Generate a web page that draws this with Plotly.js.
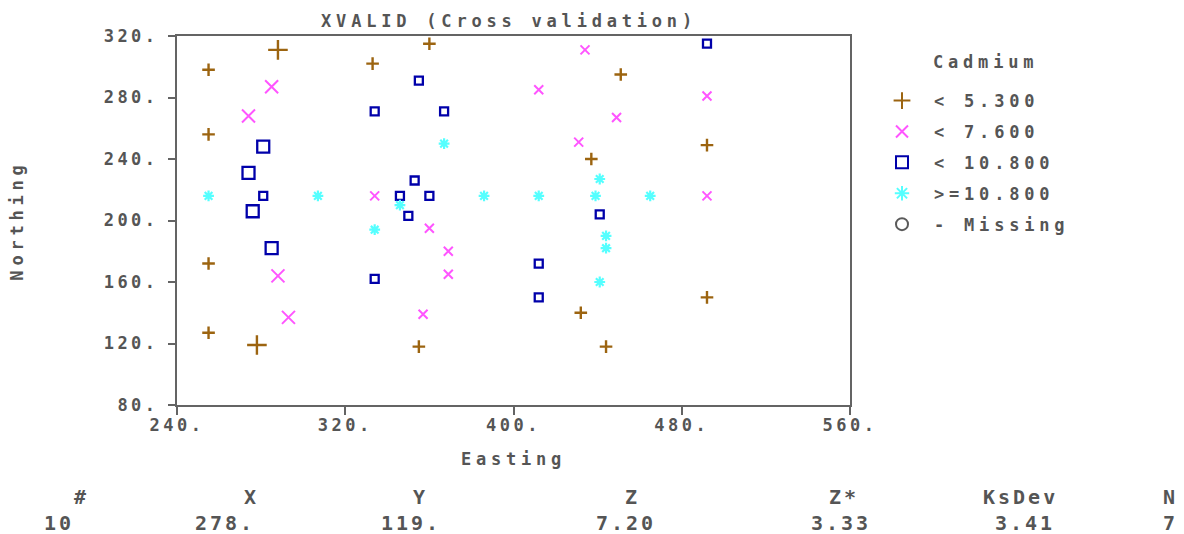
<!DOCTYPE html>
<html>
<head>
<meta charset="utf-8">
<script src="https://cdn.plot.ly/plotly-3.0.1.min.js"></script>
<style>
  html, body { margin: 0; padding: 0; background: #fff; }
  #chart { width: 1184px; height: 534px; }
  #chart text { font-weight: bold !important; }
  .gtitle, .xtitle, .ytitle, .legendtext { letter-spacing: 4.8px; }
  .xtick text, .ytick text { letter-spacing: 3.5px; }
  .annotation-text { letter-spacing: 4.8px; }
  .annotation-text[style*="font-size: 20px"] { letter-spacing: 3px; }
</style>
</head>
<body>
<div id="chart"></div>
<script>
// ---- Data ----
const titleText = 'XVALID (Cross validation)';
const xTickVals = [240, 320, 400, 480, 560];
const xTickText = ['240.', '320.', '400.', '480.', '560.'];
const yTickVals = [80, 120, 160, 200, 240, 280, 320];
const yTickText = ['80.', '120.', '160.', '200.', '240.', '280.', '320.'];

const classNames = ['&lt; 5.300', '&lt; 7.600', '&lt; 10.800', '&gt;=10.800', '- Missing'];
const legendTitle = 'Cadmium';

// class 1: < 5.300
const c1x = [255, 288, 333, 360, 451, 255, 437, 492, 255, 255, 278, 432, 444, 355, 492];
const c1y = [298, 311, 302, 315, 295, 256, 240, 249, 172, 127, 119, 140, 118, 118, 150];
const c1near = [0, 1, 0, 0, 0, 0, 0, 0, 0, 0, 1, 0, 0, 0, 0];
// class 2: < 7.600
const c2x = [285, 274, 334, 434, 412, 492, 449, 431, 492, 360, 369, 369, 288, 293, 357];
const c2y = [287, 268, 216, 311, 285, 281, 267, 251, 216, 195, 180, 165, 164, 137, 139];
const c2near = [1, 1, 0, 0, 0, 0, 0, 0, 0, 0, 0, 0, 1, 1, 0];
// class 3: < 10.800
const c3x = [281, 274, 281, 276, 355, 334, 367, 353, 346, 360, 350, 492, 441, 285, 334, 412, 412];
const c3y = [248, 231, 216, 206, 291, 271, 271, 226, 216, 216, 203, 315, 204, 182, 162, 172, 150];
const c3near = [1, 1, 0, 1, 0, 0, 0, 0, 0, 0, 0, 0, 0, 1, 0, 0, 0];
// class 4: >= 10.800
const c4x = [255, 307, 367, 386, 346, 412, 439, 465, 441, 334, 444, 444, 441];
const c4y = [216, 216, 250, 216, 210, 216, 216, 216, 227, 194, 190, 182, 160];
const c4near = [0, 0, 0, 0, 0, 0, 0, 0, 0, 0, 0, 0, 0];

// status table
const tableHeaders = ['#', 'X', 'Y', 'Z', 'Z*', 'KsDev', 'N'];
const tableValues = ['10', '278.', '119.', '7.20', '3.33', '3.41', '7'];

// ---- Layout constants ----
const W = 1184, H = 534;
const L = 177, R = 334, T = 36, B = 129;
const PW = W - L - R, PH = H - T - B;
const px2x = p => (p - L) / PW;
const py2y = p => (H - B - p) / PH;
const headerCenters = [81, 251, 420, 632, 844, 1020, 1170];
const valueCenters = [59, 225, 411, 626, 841, 1025, 1170];

const TXT = '#555555';
const AX = '#646464';
const FONT = 'DejaVu Sans Mono';

const colors = ['#9c6410', '#ff55ff', '#0000aa', '#55ffff', '#5a5a5a'];
const symbols = ['cross-thin-open', 'x-thin-open', 'square-open', 'asterisk-open', 'circle-open'];
const lineW = [2.4, 2, 2.3, 2.2, 1.6];
const sizeSmall = [9, 9, 8, 9, 8];
const sizeBig = [14, 13, 12, 9, 8];

function mk(i, xs, ys, near) {
  return {
    type: 'scatter', mode: 'markers',
    x: xs, y: ys,
    name: classNames[i],
    legendgroup: 'g' + i,
    marker: {
      symbol: symbols[i],
      color: colors[i],
      opacity: 1,
      size: near.map(n => n ? sizeBig[i] : sizeSmall[i]),
      line: { color: colors[i], width: lineW[i] }
    },
    hoverinfo: 'skip'
  };
}

const traces = [
  mk(0, c1x, c1y, c1near),
  mk(1, c2x, c2y, c2near),
  mk(2, c3x, c3y, c3near),
  mk(3, c4x, c4y, c4near),
  {
    type: 'scatter', mode: 'markers', x: [null], y: [null],
    name: classNames[4], legendgroup: 'g4',
    marker: { symbol: symbols[4], color: colors[4], size: 8, line: { color: colors[4], width: 1.6 } },
    hoverinfo: 'skip'
  }
];

const annotations = [];
annotations.push({
  text: legendTitle, xref: 'paper', yref: 'paper',
  x: px2x(931), y: py2y(62), xanchor: 'left', yanchor: 'middle',
  showarrow: false, font: { family: FONT, size: 17, color: TXT, weight: 'bold' }
});
tableHeaders.forEach((h, i) => {
  annotations.push({
    text: h, xref: 'paper', yref: 'paper',
    x: px2x(headerCenters[i]), y: py2y(497), xanchor: 'center', yanchor: 'middle',
    showarrow: false, font: { family: FONT, size: 20, color: TXT, weight: 'bold' }
  });
});
tableValues.forEach((v, i) => {
  annotations.push({
    text: v, xref: 'paper', yref: 'paper',
    x: px2x(valueCenters[i]), y: py2y(523), xanchor: 'center', yanchor: 'middle',
    showarrow: false, font: { family: FONT, size: 20, color: TXT, weight: 'bold' }
  });
});

const axisCommon = {
  showline: true, linecolor: AX, linewidth: 2, mirror: true,
  ticks: 'outside', tickcolor: AX, tickwidth: 2,
  showgrid: false, zeroline: false,
  tickfont: { family: FONT, size: 17, color: TXT, weight: 'bold' }
};

const layout = {
  width: W, height: H,
  margin: { l: L, r: R, t: T, b: B, pad: 0 },
  paper_bgcolor: '#ffffff', plot_bgcolor: '#ffffff',
  font: { family: FONT, color: TXT, size: 17, weight: 'bold' },
  title: {
    text: titleText, xref: 'container', yref: 'container',
    x: 509 / W, xanchor: 'center', y: 1 - 21 / H, yanchor: 'middle',
    font: { family: FONT, size: 17, color: TXT, weight: 'bold' }
  },
  xaxis: Object.assign({}, axisCommon, {
    range: [240, 560], tickmode: 'array', tickvals: xTickVals, ticktext: xTickText,
    ticklen: 8, ticklabelstandoff: -4,
    title: { text: 'Easting', standoff: 19, font: { family: FONT, size: 17, color: TXT, weight: 'bold' } }
  }),
  yaxis: Object.assign({}, axisCommon, {
    range: [80, 320], tickmode: 'array', tickvals: yTickVals, ticktext: yTickText,
    ticklen: 7, ticklabelstandoff: 6,
    title: { text: 'Northing', standoff: 76, font: { family: FONT, size: 17, color: TXT, weight: 'bold' } }
  }),
  showlegend: true,
  legend: {
    x: px2x(870), xanchor: 'left', y: py2y(83), yanchor: 'top',
    itemwidth: 54, itemsizing: 'constant', traceorder: 'grouped', tracegroupgap: 5.8,
    bgcolor: 'rgba(0,0,0,0)', borderwidth: 0,
    font: { family: FONT, size: 17, color: TXT, weight: 'bold' },
    itemclick: false, itemdoubleclick: false
  },
  annotations: annotations
};

Plotly.newPlot('chart', traces, layout, { staticPlot: true, displayModeBar: false });
</script>
</body>
</html>
